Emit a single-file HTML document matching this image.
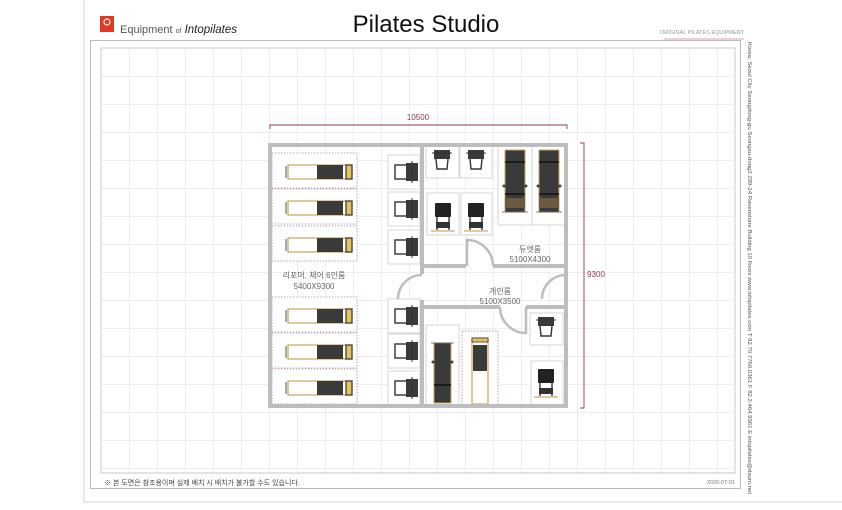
<!DOCTYPE html>
<html><head><meta charset="utf-8"><style>
html,body{margin:0;padding:0;background:#fff;}
svg{display:block;font-family:"Liberation Sans","Noto Sans CJK KR",sans-serif;}
</style></head><body>
<svg width="842" height="510" viewBox="0 0 842 510" xmlns="http://www.w3.org/2000/svg">
<defs>
<pattern id="g" x="101" y="48" width="28" height="28" patternUnits="userSpaceOnUse">
<path d="M0 0H28M0 0V28" stroke="#e8d9dc" stroke-width="1" fill="none"/>
</pattern>
<g id="ref">
<rect x="0" y="0" width="64" height="14" fill="#fff" stroke="#c9a45c" stroke-width="1.2"/>
<rect x="29" y="0" width="26" height="14" fill="#3a3a3a"/>
<rect x="58" y="0" width="6" height="14" fill="#e6c35a" stroke="#333" stroke-width="1.2"/>
<line x1="-2" y1="1" x2="-2" y2="13" stroke="#555"/>
</g>
<g id="chairL">
<rect x="0" y="0" width="12" height="14" fill="#fff" stroke="#333" stroke-width="1.4"/>
<rect x="11" y="-2" width="12" height="18" fill="#3a3a3a"/>
<line x1="17" y1="-4" x2="17" y2="18" stroke="#333"/>
</g>
<g id="chairT">
<rect x="-8" y="0" width="16" height="9" fill="#3a3a3a"/>
<line x1="-10" y1="3" x2="10" y2="3" stroke="#333"/>
<path d="M-6 9 L-5 19 H5 L6 9" fill="#fff" stroke="#333" stroke-width="1.4"/>
</g>
<g id="chairF">
<rect x="-8" y="0" width="16" height="14" fill="#222" rx="1"/>
<rect x="-7" y="19" width="14" height="6" fill="#333"/>
<line x1="-6" y1="14" x2="-6" y2="28" stroke="#333" stroke-width="1.4"/>
<line x1="6" y1="14" x2="6" y2="28" stroke="#333" stroke-width="1.4"/>
<rect x="-12" y="27" width="24" height="2" fill="#e3c9a5"/>
</g>
<g id="tower">
<rect x="0" y="0" width="20" height="62" fill="#3a3a3a" stroke="#c9a45c" stroke-width="1"/>
<line x1="0" y1="12" x2="20" y2="12" stroke="#111" stroke-width="1.5"/>
<line x1="0" y1="44" x2="20" y2="44" stroke="#111" stroke-width="1.5"/>
<rect x="0" y="48" width="20" height="10" fill="#6b5a44"/>
<circle cx="-1" cy="36" r="1.5" fill="#444"/><circle cx="21" cy="36" r="1.5" fill="#444"/>
<line x1="-3" y1="62" x2="23" y2="62" stroke="#555" stroke-width="0.8"/>
</g>
</defs>
<rect x="0" y="0" width="842" height="510" fill="#fff"/>
<line x1="84" y1="0" x2="84" y2="502" stroke="#d0d0d0"/>
<line x1="84" y1="502" x2="842" y2="502" stroke="#d8d8d8"/>
<rect x="90.5" y="40.5" width="650" height="448" fill="none" stroke="#bbb"/>
<rect x="101" y="48" width="634" height="425" fill="url(#g)" stroke="#c8c8c8"/>
<rect x="100" y="16" width="14" height="16" fill="#e03a25"/>
<circle cx="107" cy="22" r="3" fill="none" stroke="#fff" stroke-width="1.2"/>
<text x="120" y="33" font-size="11" fill="#555">Equipment <tspan font-size="7">of</tspan> <tspan font-style="italic" fill="#222" font-size="11.5">Intopilates</tspan></text>
<text x="426" y="32" font-size="24" fill="#111" text-anchor="middle">Pilates Studio</text>
<text x="702" y="34" font-size="5.5" fill="#999" text-anchor="middle">ORIGINAL PILATES EQUIPMENT</text>
<line x1="664" y1="39" x2="744" y2="39" stroke="#e0a0a8"/>
<text transform="translate(748,42) rotate(90)" font-size="5.5" fill="#555" textLength="452" lengthAdjust="spacingAndGlyphs">Korea, Seoul City Seongdong-gu Seongsu-dong2 299-24 Ravenstone Building 10 floors    www.intopilates.com    T 82.70.7760.0361  F 82.2.464.9361  E intopilates@daum.net</text>
<text x="104" y="485" font-size="7" fill="#444">※ 본 도면은 참조용이며 실제 배치 시 배치가 불가할 수도 있습니다.</text>
<text x="735" y="484" font-size="5.5" fill="#777" text-anchor="end">2020-07-01</text>
<g stroke="#8a3a4a" stroke-width="0.9" fill="none">
<path d="M270 129 V125 H567 V129"/>
<path d="M580 143 H584 V408 H580"/>
</g>
<text x="418" y="120" font-size="8" fill="#8a3a4a" text-anchor="middle">10500</text>
<text x="596" y="277" font-size="8" fill="#8a3a4a" text-anchor="middle">9300</text>
<rect x="268" y="143" width="300" height="265" fill="#fff"/>
<rect x="268" y="143" width="300" height="265" fill="url(#g)"/>
<g fill="#fff" stroke="#ccc" stroke-width="0.8">
<rect x="388" y="155" width="32" height="34"/><rect x="388" y="192" width="32" height="34"/><rect x="388" y="230" width="32" height="34"/>
<rect x="388" y="299" width="32" height="34"/><rect x="388" y="334" width="32" height="34"/><rect x="388" y="371" width="32" height="34"/>
<rect x="426" y="145" width="33" height="33"/><rect x="460" y="145" width="32" height="33"/>
<rect x="498" y="145" width="34" height="80"/><rect x="532" y="145" width="33" height="80"/>
<rect x="427" y="193" width="32" height="42"/><rect x="461" y="193" width="31" height="42"/>
<rect x="426" y="325" width="33" height="81"/>
<rect x="530" y="313" width="33" height="32"/><rect x="531" y="361" width="32" height="44"/>
</g>
<g fill="#fff" stroke="#a78a90" stroke-width="0.8" stroke-dasharray="1.5 1.5">
<rect x="272" y="153" width="85" height="35"/><rect x="272" y="189" width="85" height="35"/><rect x="272" y="226" width="85" height="35"/>
<rect x="272" y="297" width="85" height="35"/><rect x="272" y="333" width="85" height="35"/><rect x="272" y="369" width="85" height="35"/>
<rect x="462" y="331" width="36" height="76"/>
</g>
<use href="#ref" x="288" y="165"/><use href="#ref" x="288" y="201"/><use href="#ref" x="288" y="238"/>
<use href="#ref" x="288" y="309"/><use href="#ref" x="288" y="345"/><use href="#ref" x="288" y="381"/>
<use href="#chairL" x="395" y="165"/><use href="#chairL" x="395" y="202"/><use href="#chairL" x="395" y="240"/>
<use href="#chairL" x="395" y="309"/><use href="#chairL" x="395" y="344"/><use href="#chairL" x="395" y="381"/>
<use href="#chairT" x="442" y="150"/><use href="#chairT" x="476" y="150"/><use href="#chairT" x="546" y="317"/>
<use href="#chairF" x="443" y="203"/><use href="#chairF" x="476" y="203"/><use href="#chairF" x="546" y="369"/>
<use href="#tower" x="505" y="150"/><use href="#tower" x="539" y="150"/>
<rect x="434" y="343" width="17" height="60" fill="#3a3a3a" stroke="#c9a45c"/>
<line x1="434" y1="385" x2="451" y2="385" stroke="#111" stroke-width="1.5"/>
<line x1="431" y1="343" x2="454" y2="343" stroke="#555" stroke-width="0.8"/>
<circle cx="433" cy="362" r="1.5" fill="#444"/><circle cx="452" cy="362" r="1.5" fill="#444"/>
<rect x="472" y="338" width="16" height="66" fill="#fff" stroke="#c9a45c" stroke-width="1.2"/>
<rect x="472" y="338" width="16" height="4" fill="#e6c35a" stroke="#333" stroke-width="0.8"/>
<rect x="473" y="345" width="14" height="26" fill="#3a3a3a"/>
<g stroke="#bdbdbd" stroke-width="4" fill="none">
<rect x="270" y="145" width="296" height="261"/>
<path d="M422 145 V274 M422 300 V406"/>
<path d="M422 266 H466 M493 266 H566"/>
<path d="M422 307 H500 M526 307 H566"/>
</g>
<g stroke="#bdbdbd" stroke-width="2.5" fill="none">
<path d="M467 266 V240 A26 26 0 0 1 493 266"/>
<path d="M398 299 A24 24 0 0 1 422 275"/>
<path d="M542 299 A24 24 0 0 1 566 275"/>
<path d="M500 307 A26 26 0 0 0 526 333 V307"/>
</g>
<text x="530" y="252" font-size="8" fill="#666" text-anchor="middle">듀엣룸</text>
<text x="530" y="262" font-size="8" fill="#666" text-anchor="middle">5100X4300</text>
<text x="500" y="294" font-size="8" fill="#666" text-anchor="middle">개인룸</text>
<text x="500" y="304" font-size="8" fill="#666" text-anchor="middle">5100X3500</text>
<text x="314" y="278" font-size="8" fill="#666" text-anchor="middle">리포머, 체어 6인룸</text>
<text x="314" y="289" font-size="8" fill="#666" text-anchor="middle">5400X9300</text>
</svg>
</body></html>
